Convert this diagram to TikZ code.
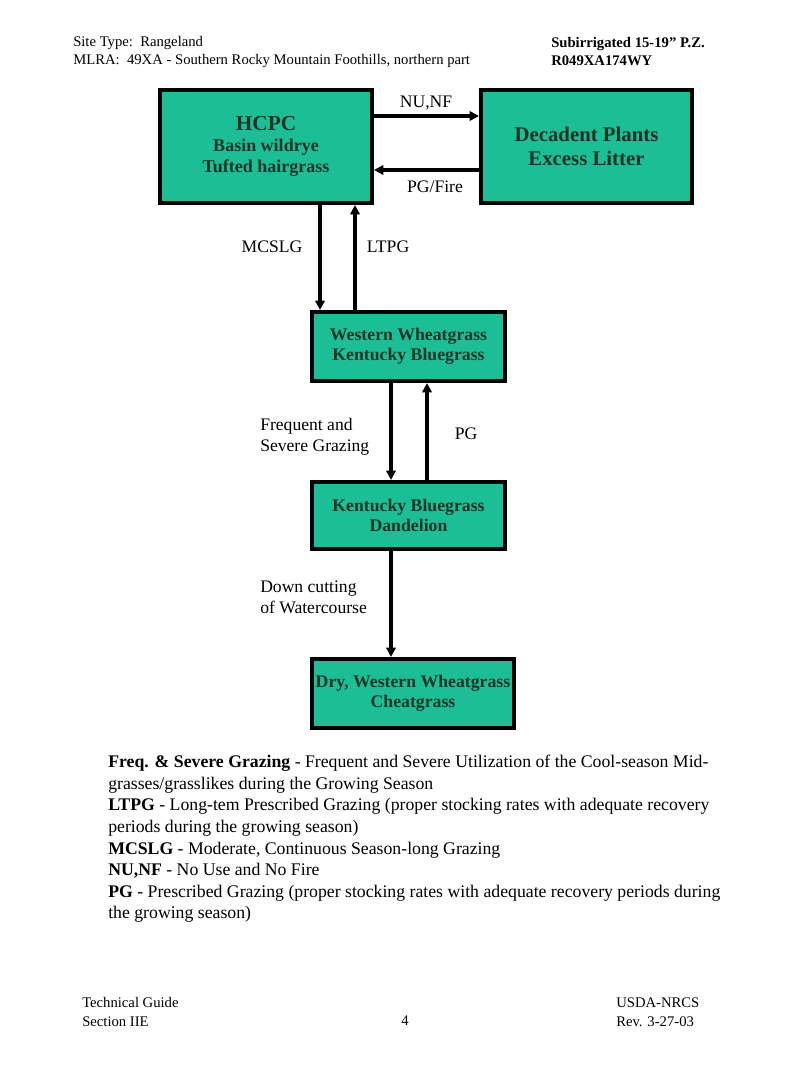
\documentclass[tikz,border=0pt]{standalone}
\usepackage{fontspec}
\setmainfont{Liberation Serif}
\usetikzlibrary{arrows.meta}
\definecolor{boxfill}{RGB}{28,190,150}
\definecolor{boxtext}{RGB}{20,52,38}
\tikzset{
  box/.style={draw, line width=3pt, fill=boxfill, text=boxtext, inner sep=0pt,
    align=center, font=\bfseries\fontsize{13.3}{15}\selectfont},
  arr/.style={line width=2.3pt, -{Triangle[length=7pt,width=7pt]}},
  lbl/.style={inner sep=0pt, font=\fontsize{13.2}{15.75}\selectfont},
  hdr/.style={inner sep=0pt, anchor=west, align=left, font=\fontsize{11}{13.5}\selectfont}
}
\begin{document}
\begin{tikzpicture}[x=0.75pt,y=-0.75pt]
        \useasboundingbox (0,0) rectangle (800,1067);
        %intestazione
        \node[hdr] (hdl) at (73,52) {Site Type:\ \ Rangeland\\MLRA:\ \ 49XA - Southern Rocky Mountain Foothills, northern part};
        \node[hdr, font=\bfseries\fontsize{11}{13.5}\selectfont] (hdr) at (551,52) {Subirrigated 15-19'' P.Z.\\R049XA174WY};
        %stati
        \node[box, minimum width=159pt, minimum height=84.75pt, font=\bfseries\fontsize{13.5}{15.75}\selectfont] (hcpc) at (266,146.5)
          {{\fontsize{16}{18}\selectfont HCPC}\\Basin wildrye\\Tufted hairgrass};
        \node[box, minimum width=158.25pt, minimum height=84.75pt, font=\bfseries\fontsize{15.6}{18}\selectfont] (dec) at (586.5,146.5)
          {Decadent Plants\\Excess Litter};
        \node[box, minimum width=144.75pt, minimum height=51.75pt] (wwg) at (408.5,346.5)
          {Western Wheatgrass\\Kentucky Bluegrass};
        \node[box, minimum width=144.75pt, minimum height=50.25pt] (kbd) at (408.5,515.5)
          {Kentucky Bluegrass\\Dandelion};
        \node[box, minimum width=151.5pt, minimum height=51.75pt] (dry) at (413,693.5)
          {Dry, Western Wheatgrass\\Cheatgrass};
        %frecce orizzontali
        \coordinate (ya) at (0,116);
        \coordinate (yb) at (0,170);
        \draw[arr] (hcpc.east |- ya) -- (dec.west |- ya);
        \draw[arr] (dec.west |- yb) -- (hcpc.east |- yb);
        \node[lbl] (nunf) at (426,103) {NU,NF};
        \node[lbl] (pgfire) at (435,187) {PG/Fire};
        %frecce verticali
        \coordinate (xa) at (320,0);
        \coordinate (xb) at (355,0);
        \coordinate (xc) at (391,0);
        \coordinate (xd) at (427,0);
        \draw[arr] (hcpc.south -| xa) -- (wwg.north -| xa);
        \draw[arr] (wwg.north -| xb) -- (hcpc.south -| xb);
        \node[lbl] (mcslg) at (272,247) {MCSLG};
        \node[lbl] (ltpg) at (388,247) {LTPG};
        \draw[arr] (wwg.south -| xc) -- (kbd.north -| xc);
        \draw[arr] (kbd.north -| xd) -- (wwg.south -| xd);
        \node[lbl, anchor=west, align=left] (fsg) at (260,437) {Frequent and\\Severe Grazing};
        \node[lbl] (pg) at (466,434) {PG};
        \draw[arr] (kbd.south -| xc) -- (dry.north -| xc);
        \node[lbl, anchor=west, align=left] (dcw) at (260,597) {Down cutting\\of Watercourse};
        %legenda
        \node[inner sep=0pt, anchor=north west, align=left, font=\fontsize{13.3}{16.2}\selectfont] (leg) at (108,755)
          {\textbf{Freq. \& Severe Grazing} - Frequent and Severe Utilization of the Cool-season Mid-\\
           grasses/grasslikes during the Growing Season\\
           \textbf{LTPG} - Long-tem Prescribed Grazing (proper stocking rates with adequate recovery\\
           periods during the growing season)\\
           \textbf{MCSLG} - Moderate, Continuous Season-long Grazing\\
           \textbf{NU,NF} - No Use and No Fire\\
           \textbf{PG} - Prescribed Grazing (proper stocking rates with adequate recovery periods during\\
           the growing season)};
        %piede
        \node[hdr, font=\fontsize{11}{14.25}\selectfont] (ftl) at (82,1012) {Technical Guide\\Section IIE};
        \node[lbl, font=\fontsize{11}{12}\selectfont] (pgno) at (405,1021) {4};
        \node[hdr, font=\fontsize{11}{14.25}\selectfont] (ftr) at (616,1012) {USDA-NRCS\\Rev. 3-27-03};
\end{tikzpicture}
\end{document}
